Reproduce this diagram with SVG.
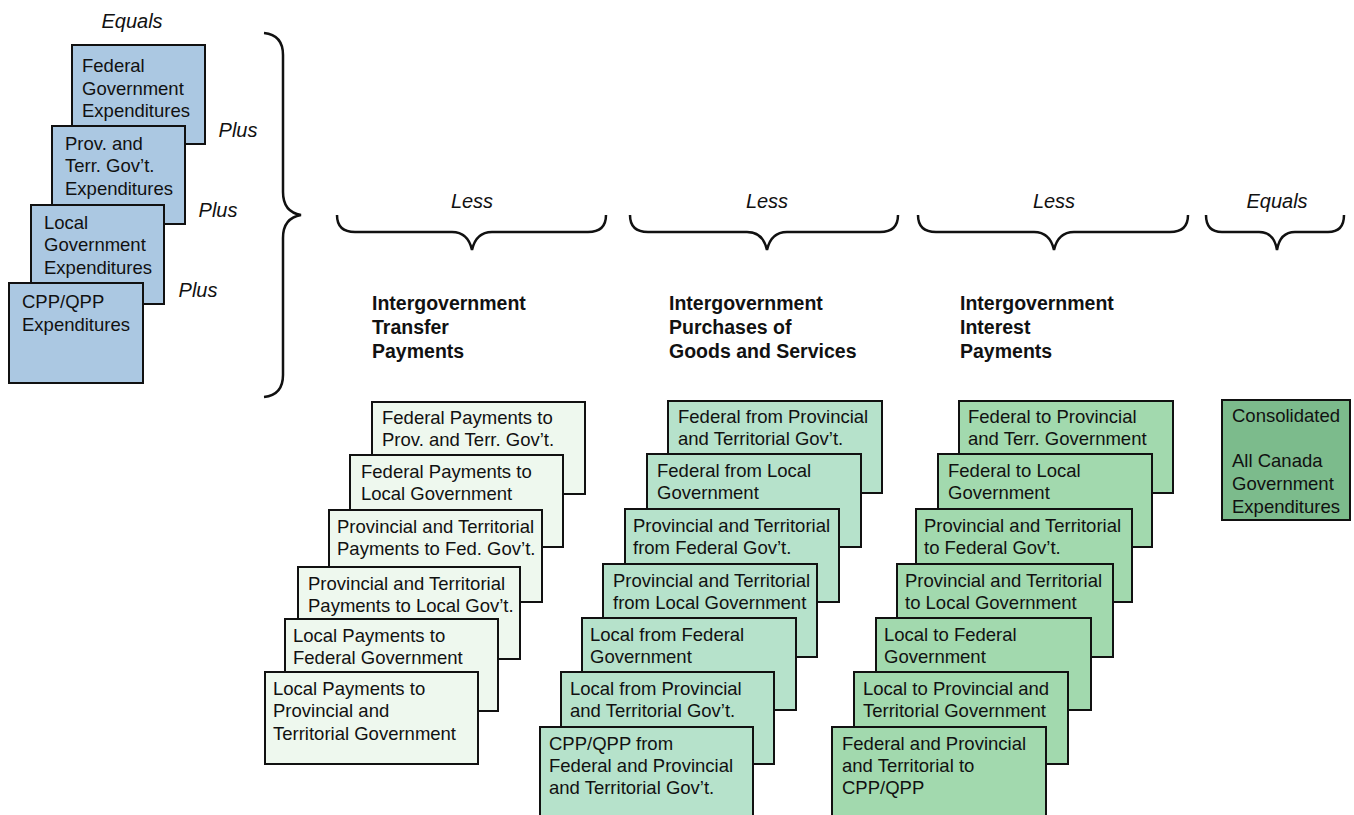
<svg xmlns="http://www.w3.org/2000/svg" width="1354" height="815" viewBox="0 0 1354 815">
<style>
rect{stroke:#111;stroke-width:2}
.b{fill:#abc8e2}
.g1{fill:#eef8ee}
.g2{fill:#b6e2cb}
.g3{fill:#a2d9ae}
.g4{fill:#7cbb8c}
text{font-family:"Liberation Sans",Arial,sans-serif;fill:#111}
.t{font-size:18.5px}
.h{font-size:19.5px;font-weight:bold}
.i{font-size:20px;font-style:italic}
.br{fill:none;stroke:#111;stroke-width:2.5}
</style>
<rect width="1354" height="815" fill="#fff" style="stroke:none"/>
<g id="labels">
<text class="i" x="132" y="28" text-anchor="middle">Equals</text>
<text class="i" x="238" y="137" text-anchor="middle">Plus</text>
<text class="i" x="218" y="217" text-anchor="middle">Plus</text>
<text class="i" x="198" y="297" text-anchor="middle">Plus</text>
<text class="i" x="472" y="208" text-anchor="middle">Less</text>
<text class="i" x="767" y="208" text-anchor="middle">Less</text>
<text class="i" x="1054" y="208" text-anchor="middle">Less</text>
<text class="i" x="1277" y="208" text-anchor="middle">Equals</text>
</g>
<g id="connectors">
<path class="br" d="M264,33 Q283,35 283,55 L283,192 Q283,212 301,215 Q283,218 283,238 L283,375 Q283,395 264,397"/>
<path class="br" d="M337,215 Q337,232 355,232 L452,232 Q468,232 472,250 Q476,232 492,232 L588,232 Q606,232 606,215"/>
<path class="br" d="M630,215 Q630,232 648,232 L747,232 Q763,232 767,250 Q771,232 787,232 L880,232 Q898,232 898,215"/>
<path class="br" d="M918,215 Q918,232 936,232 L1034,232 Q1050,232 1054,250 Q1058,232 1074,232 L1170,232 Q1188,232 1188,215"/>
<path class="br" d="M1206,215 Q1206,232 1222,232 L1259,232 Q1274,232 1277,250 Q1280,232 1295,232 L1328,232 Q1344,232 1344,215"/>
</g>
<g id="headers">
<text class="h" x="372" y="310">Intergovernment</text>
<text class="h" x="372" y="334">Transfer</text>
<text class="h" x="372" y="358">Payments</text>
<text class="h" x="669" y="310">Intergovernment</text>
<text class="h" x="669" y="334">Purchases of</text>
<text class="h" x="669" y="358">Goods and Services</text>
<text class="h" x="960" y="310">Intergovernment</text>
<text class="h" x="960" y="334">Interest</text>
<text class="h" x="960" y="358">Payments</text>
</g>
<g id="fed-exp"><rect class="b" x="72" y="45" width="133" height="99"/><text class="t" x="82" y="72">Federal</text><text class="t" x="82" y="94.5">Government</text><text class="t" x="82" y="117">Expenditures</text></g>
<g id="prov-exp"><rect class="b" x="52" y="126" width="133" height="98"/><text class="t" x="65" y="150">Prov. and</text><text class="t" x="65" y="172">Terr. Gov’t.</text><text class="t" x="65" y="194.5">Expenditures</text></g>
<g id="local-exp"><rect class="b" x="31" y="205" width="133" height="99"/><text class="t" x="44" y="229">Local</text><text class="t" x="44" y="251">Government</text><text class="t" x="44" y="273.5">Expenditures</text></g>
<g id="cpp-exp"><rect class="b" x="9" y="283" width="134" height="100"/><text class="t" x="22" y="308">CPP/QPP</text><text class="t" x="22" y="330.5">Expenditures</text></g>

<g id="t1"><rect class="g1" x="372" y="402" width="213" height="92"/><text class="t" x="382" y="424">Federal Payments to</text><text class="t" x="382" y="446">Prov. and Terr. Gov’t.</text></g>
<g id="t2"><rect class="g1" x="350" y="455" width="213" height="92"/><text class="t" x="361" y="478">Federal Payments to</text><text class="t" x="361" y="500">Local Government</text></g>
<g id="t3"><rect class="g1" x="329" y="510" width="213" height="92"/><text class="t" x="337" y="533">Provincial and Territorial</text><text class="t" x="337" y="555">Payments to Fed. Gov’t.</text></g>
<g id="t4"><rect class="g1" x="298" y="567" width="222" height="92"/><text class="t" x="308" y="590">Provincial and Territorial</text><text class="t" x="308" y="612">Payments to Local Gov’t.</text></g>
<g id="t5"><rect class="g1" x="285" y="619" width="213" height="92"/><text class="t" x="293" y="642">Local Payments to</text><text class="t" x="293" y="664">Federal Government</text></g>
<g id="t6"><rect class="g1" x="265" y="672" width="213" height="92"/><text class="t" x="273" y="695">Local Payments to</text><text class="t" x="273" y="717">Provincial and</text><text class="t" x="273" y="740">Territorial Government</text></g>

<g id="p1"><rect class="g2" x="668" y="401" width="214" height="92"/><text class="t" x="678" y="423">Federal from Provincial</text><text class="t" x="678" y="445">and Territorial Gov’t.</text></g>
<g id="p2"><rect class="g2" x="647" y="454" width="214" height="93"/><text class="t" x="657" y="477">Federal from Local</text><text class="t" x="657" y="499">Government</text></g>
<g id="p3"><rect class="g2" x="625" y="509" width="214" height="93"/><text class="t" x="633" y="532">Provincial and Territorial</text><text class="t" x="633" y="554">from Federal Gov’t.</text></g>
<g id="p4"><rect class="g2" x="603" y="564" width="214" height="93"/><text class="t" x="613" y="587">Provincial and Territorial</text><text class="t" x="613" y="609">from Local Government</text></g>
<g id="p5"><rect class="g2" x="582" y="618" width="214" height="92"/><text class="t" x="590" y="641">Local from Federal</text><text class="t" x="590" y="663">Government</text></g>
<g id="p6"><rect class="g2" x="561" y="672" width="213" height="92"/><text class="t" x="570" y="695">Local from Provincial</text><text class="t" x="570" y="717">and Territorial Gov’t.</text></g>
<g id="p7"><rect class="g2" x="540" y="727" width="213" height="95"/><text class="t" x="549" y="750">CPP/QPP from</text><text class="t" x="549" y="772">Federal and Provincial</text><text class="t" x="549" y="794">and Territorial Gov’t.</text></g>

<g id="i1"><rect class="g3" x="959" y="401" width="214" height="92"/><text class="t" x="968" y="423">Federal to Provincial</text><text class="t" x="968" y="445">and Terr. Government</text></g>
<g id="i2"><rect class="g3" x="938" y="454" width="214" height="93"/><text class="t" x="948" y="477">Federal to Local</text><text class="t" x="948" y="499">Government</text></g>
<g id="i3"><rect class="g3" x="916" y="509" width="216" height="93"/><text class="t" x="924" y="532">Provincial and Territorial</text><text class="t" x="924" y="554">to Federal Gov’t.</text></g>
<g id="i4"><rect class="g3" x="897" y="564" width="216" height="93"/><text class="t" x="905" y="587">Provincial and Territorial</text><text class="t" x="905" y="609">to Local Government</text></g>
<g id="i5"><rect class="g3" x="876" y="618" width="215" height="92"/><text class="t" x="884" y="641">Local to Federal</text><text class="t" x="884" y="663">Government</text></g>
<g id="i6"><rect class="g3" x="854" y="672" width="214" height="92"/><text class="t" x="863" y="695">Local to Provincial and</text><text class="t" x="863" y="717">Territorial Government</text></g>
<g id="i7"><rect class="g3" x="832" y="727" width="214" height="95"/><text class="t" x="842" y="750">Federal and Provincial</text><text class="t" x="842" y="772">and Territorial to</text><text class="t" x="842" y="794">CPP/QPP</text></g>

<g id="consolidated"><rect class="g4" x="1222" y="400" width="128" height="120"/><text class="t" x="1232" y="422">Consolidated</text><text class="t" x="1232" y="467">All Canada</text><text class="t" x="1232" y="490">Government</text><text class="t" x="1232" y="513">Expenditures</text></g>
</svg>
